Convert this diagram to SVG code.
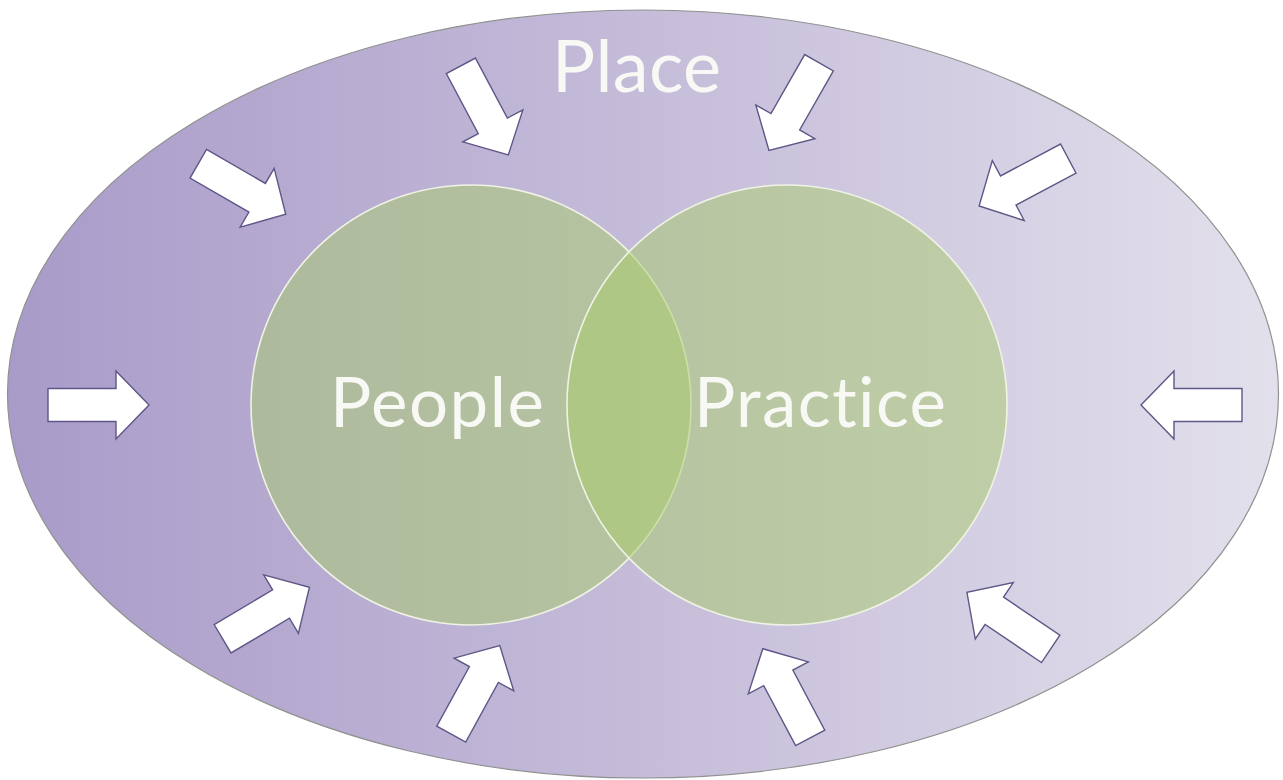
<svg xmlns="http://www.w3.org/2000/svg" xmlns:xlink="http://www.w3.org/1999/xlink" width="1283" height="780" viewBox="0 0 1283 780">
  <defs>
    <linearGradient id="placeFill" x1="0" y1="0" x2="1" y2="0">
      <stop offset="0" stop-color="#a99bc9"/>
      <stop offset="0.5" stop-color="#c5bcd9"/>
      <stop offset="1" stop-color="#e3e0ec"/>
    </linearGradient>
    <!-- block arrow pointing along +x, centred on the origin -->
    <path id="blockArrow" d="M-50.5,-16.5 H17.5 V-34 L50.5,0 L17.5,34 V16.5 H-50.5 Z"/>
  </defs>
  <style>
    .place { fill: url(#placeFill); stroke: #8f918f; stroke-width: 1.2; }
    .set { fill: #a8cb6a; fill-opacity: 0.5; stroke: #eff3e4; stroke-width: 1.6; }
    .arrow { fill: #ffffff; stroke: #5e5787; stroke-width: 1.4; stroke-linejoin: miter; }
    .label { font-family: Lato, "Liberation Sans", sans-serif; fill: #f8f8f4;
             font-variant-ligatures: none; font-feature-settings: "liga" 0, "clig" 0; }
  </style>

  <rect width="1283" height="780" fill="#ffffff"/>

  <g id="place">
    <ellipse class="place" cx="643" cy="394" rx="635.5" ry="384"/>
    <text class="label" x="552" y="92" font-size="72" textLength="169">Place</text>
  </g>

  <!-- inward-pointing arrows around the ring -->
  <g id="connectors">
    <use class="arrow" xlink:href="#blockArrow" transform="translate(98.5,405)"/>
    <use class="arrow" xlink:href="#blockArrow" transform="translate(242,189) rotate(30)"/>
    <use class="arrow" xlink:href="#blockArrow" transform="translate(484.6,110.4) rotate(62)"/>
    <use class="arrow" xlink:href="#blockArrow" transform="translate(794,106.6) rotate(119.7)"/>
    <use class="arrow" xlink:href="#blockArrow" transform="translate(1023.7,182.3) rotate(152)"/>
    <use class="arrow" xlink:href="#blockArrow" transform="translate(1191.5,405) rotate(180)"/>
    <use class="arrow" xlink:href="#blockArrow" transform="translate(1008.8,620.6) rotate(-146)"/>
    <use class="arrow" xlink:href="#blockArrow" transform="translate(786.5,693.3) rotate(-118)"/>
    <use class="arrow" xlink:href="#blockArrow" transform="translate(475.5,689.8) rotate(-61.3)"/>
    <use class="arrow" xlink:href="#blockArrow" transform="translate(266,613) rotate(-30.7)"/>
  </g>

  <g id="people">
    <circle class="set" cx="471" cy="405" r="220"/>
  </g>
  <g id="practice">
    <circle class="set" cx="787" cy="405" r="220"/>
  </g>

  <text class="label" x="330" y="427" font-size="69" textLength="214">People</text>
  <text class="label" x="694" y="427" font-size="69" textLength="252">Practice</text>
</svg>
